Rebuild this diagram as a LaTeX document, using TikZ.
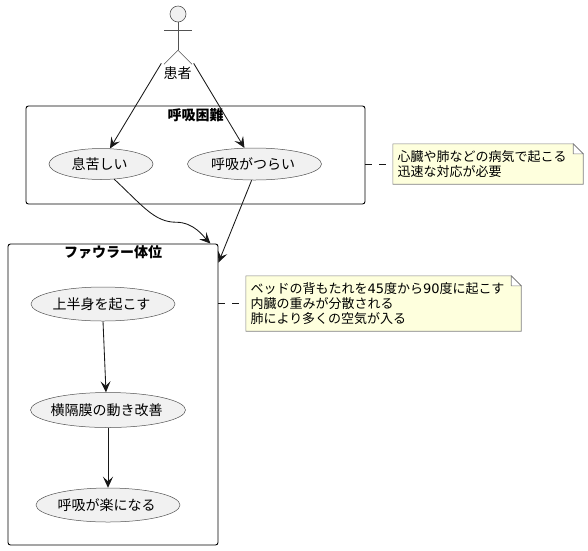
\documentclass[tikz,border=0pt]{standalone}
\usepackage{fontspec}
\usepackage{xcolor}
\setmainfont{Noto Sans CJK JP}
\newfontfamily\digitfont{DejaVu Sans}
\usetikzlibrary{arrows.meta,positioning,shapes.geometric,backgrounds}
\definecolor{umlfill}{HTML}{F1F1F1}
\definecolor{umlline}{HTML}{181818}
\definecolor{notefill}{HTML}{FEFFDD}
\tikzset {
    usecase/.style={draw=umlline!75, fill=umlfill, ellipse, line width=0.5pt,
        inner sep=0pt, align=center, font=\fontsize{14}{16}\selectfont,
        execute at begin node={\hspace*{-3pt}}},
    frame/.style={draw=black, rounded corners=2.5pt, line width=0.9pt,
        inner sep=0pt},
    frametitle/.style={inner sep=0pt, font=\fontsize{14}{16}\selectfont\bfseries},
    note/.style={inner sep=0pt, align=left, font=\fontsize{13}{15.3}\selectfont},
    notepaper/.style={draw=umlline!55, fill=notefill, line width=0.6pt},
    stickman/.style={draw=umlline!75, line width=0.6pt},
    flow/.style={draw=umlline, line width=0.85pt,
        -{Stealth[length=11pt, width=10pt, inset=4.5pt]}},
    noteline/.style={draw=umlline, line width=0.7pt, dash pattern=on 7pt off 7pt},
}
\begin{document}
\begin{tikzpicture}[x=1pt, y=-1pt]

        \useasboundingbox (0,0) rectangle (588,550);

        \node[circle, stickman, fill=umlfill, minimum size=16pt, inner sep=0pt] (head) at (178,14) {};
        \coordinate[below=8pt of head.south] (shoulder);
        \coordinate[below=28pt of head.south] (hip);
        \node[inner sep=0pt, font=\fontsize{14}{16}\selectfont] (patient) at (177.5,73) {患者};

        \node[usecase, minimum width=104pt, minimum height=31pt] (breathless) at (101,164) {息苦しい};
        \node[usecase, minimum width=134pt, minimum height=32pt, right=34pt of breathless] (hardBreathing) {呼吸がつらい};

        \node[usecase, minimum width=144pt, minimum height=34pt] (raiseBody) at (103,304) {上半身を起こす};
        \node[usecase, minimum width=155pt, minimum height=35pt, below=71pt of raiseBody, xshift=5pt] (diaphragm) {横隔膜の動き改善};
        \node[usecase, minimum width=144pt, minimum height=34pt, below=60pt of diaphragm] (easyBreathing) {呼吸が楽になる};

        \node[frame, minimum width=339pt, minimum height=98pt] (dyspnea) at (195.5,155) {};
        \node[frame, minimum width=210pt, minimum height=301pt] (fowler) at (113,394.5) {};
        \node[frametitle, below=3pt of dyspnea.north] (dyspneaTitle) {呼吸困難};
        \node[frametitle, below=2pt of fowler.north] (fowlerTitle) {ファウラー体位};

        \node[note, minimum width=190pt, minimum height=40pt, text width=181pt] (dyspneaNote) at (488,164)
            {心臓や肺などの病気で起こる\\迅速な対応が必要};
        \node[note, minimum width=275pt, minimum height=55pt, text width=266pt] (fowlerNote) at (383.5,303.5)
            {ベッドの背もたれを{\digitfont 45}度から{\digitfont 90}度に起こす\\内臓の重みが分散される\\肺により多くの空気が入る};

        \begin{scope}[on background layer]
            \foreach \n in {dyspneaNote, fowlerNote} {
                \draw[notepaper] (\n.north west) -- ([xshift=-10pt]\n.north east)
                    -- ([yshift=-10pt]\n.north east) -- (\n.south east)
                    -- (\n.south west) -- cycle;
                \draw[notepaper, fill=white] ([xshift=-10pt]\n.north east)
                    -- ([xshift=-10pt, yshift=-10pt]\n.north east)
                    -- ([yshift=-10pt]\n.north east) -- cycle;
            }
        \end{scope}

        \draw[stickman] (head.south) -- (hip);
        \draw[stickman] ([xshift=-14pt]shoulder) -- ([xshift=14pt]shoulder);
        \draw[stickman] ([xshift=-14pt, yshift=-14pt]hip) -- (hip) -- ([xshift=14pt, yshift=-14pt]hip);

        \draw[flow] ([xshift=-2pt, yshift=3pt]patient.north west) -- (breathless.60);
        \draw[flow] ([xshift=2pt, yshift=3pt]patient.north east) -- (hardBreathing.122);

        \draw[flow] (breathless.-49) .. controls +(28,26) and +(-22,0) .. ++(62,43)
            .. controls +(18,0) and +(-6,-6) .. ([xshift=-8pt]fowler.north east);
        \draw[flow] (hardBreathing.-100) -- ([yshift=-19pt]fowler.north east);

        \draw[flow] (raiseBody.south) -- (diaphragm.north -| 106,0);
        \draw[flow] (diaphragm.south) -- (easyBreathing.north);

        \draw[noteline] (dyspneaNote.west -| dyspnea.east) -- (dyspneaNote.west);
        \draw[noteline] (fowlerNote.west -| fowler.east) -- (fowlerNote.west);

    \end{tikzpicture}
\end{document}
